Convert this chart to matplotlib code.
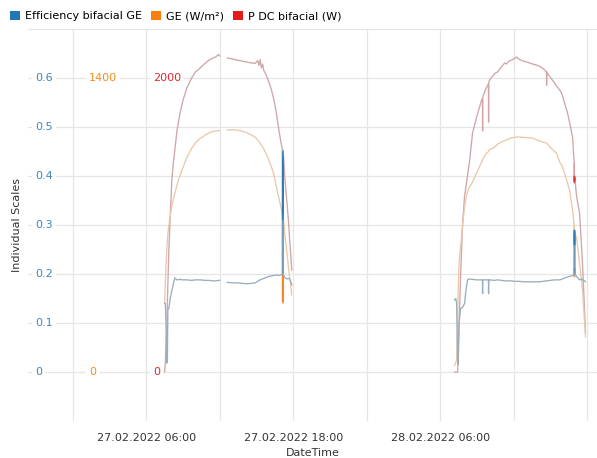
import datetime as dt

import numpy as np
import matplotlib
matplotlib.use("Agg")
import matplotlib.pyplot as plt
import matplotlib.dates as mdates
from matplotlib.collections import LineCollection
from matplotlib.patches import Patch

nan = float("nan")

# 27.02.2022 -- hour of day, efficiency, irradiance GE (W/m²), DC power (W)
d1_date = dt.datetime(2022, 2, 27)
d1_hours = [7.50, 7.55, 7.60, 7.67, 7.72, 7.76, 7.84, 7.95, 8.08, 8.20, 8.33, 8.50,
            8.75, 9.00, 9.30, 9.70, 10.0, 10.4, 10.8, 11.1, 11.4, 11.7, 11.9, 12.0,
            12.3, 12.62, 13.0, 13.4, 13.8, 14.2, 14.6, 14.9, 15.1, 15.2, 15.3, 15.4,
            15.5, 15.6, 15.8, 16.0, 16.2, 16.4, 16.6, 16.8, 17.0, 17.12,
            17.125, 17.130, 17.135, 17.140, 17.145, 17.150, 17.155, 17.160, 17.165,
            17.170, 17.175, 17.180, 17.185,
            17.19, 17.3, 17.47, 17.6, 17.71, 17.80, 17.88]
d1_eff = [0.140, 0.140, 0.105, 0.018, 0.025, 0.127, 0.130, 0.150, 0.165, 0.180, 0.192, 0.188,
          0.189, 0.188, 0.188, 0.187, 0.188, 0.188, 0.187, 0.187, 0.186, 0.186, 0.187, 0.187,
          nan, 0.183, 0.182, 0.182, 0.181, 0.180, 0.181, 0.182, 0.185, 0.187, 0.188, 0.189,
          0.190, 0.191, 0.193, 0.195, 0.196, 0.197, 0.198, 0.197, 0.198, 0.200,
          0.300, 0.440, 0.310, 0.450, 0.320, 0.430, 0.310, 0.452, 0.330,
          0.440, 0.310, 0.445, 0.300,
          0.200, 0.193, 0.190, 0.191, 0.190, 0.184, 0.178]
d1_ge = [330, 420, 500, 580, 630, 660, 700, 745, 790, 820, 850, 890,
         935, 975, 1020, 1065, 1090, 1112, 1128, 1138, 1145, 1148, 1150, 1150,
         nan, 1152, 1153, 1152, 1148, 1140, 1128, 1118, 1105, 1098, 1090, 1080,
         1072, 1062, 1038, 1010, 980, 945, 890, 835, 785, 750,
         490, 335, 480, 330, 470, 340, 485, 328, 455,
         335, 480, 332, 490,
         735, 665, 575, 505, 450, 410, 367]
d1_pdc = [0, 60, 180, 300, 470, 600, 830, 1050, 1300, 1420, 1510, 1640,
          1760, 1850, 1930, 2000, 2040, 2068, 2100, 2120, 2135, 2145, 2160, 2150,
          nan, 2136, 2130, 2122, 2115, 2109, 2102, 2100, 2118, 2085, 2125, 2068,
          2095, 2050, 2020, 1975, 1925, 1860, 1775, 1660, 1560, 1510,
          1490, 1470, 1505, 1462, 1500, 1468, 1508, 1460, 1495,
          1470, 1500, 1465, 1485,
          1490, 1340, 1170, 1040, 898, 800, 694]

# 28.02.2022
d2_date = dt.datetime(2022, 2, 28)
d2_hours = [7.18, 7.28, 7.35, 7.43, 7.48, 7.55, 7.67, 7.84, 8.00, 8.08, 8.16, 8.24,
            8.40, 8.65, 9.00, 9.39, 9.46, 9.47, 9.48, 9.70, 9.95, 9.96, 9.97, 10.04,
            10.45, 10.69, 11.0, 11.27, 11.43, 11.6, 11.84, 12.05, 12.24, 12.49, 12.8,
            13.06, 13.55, 13.88, 14.12, 14.4, 14.69, 14.70, 14.71, 15.0, 15.35, 15.51,
            15.76, 15.92, 16.0, 16.2, 16.41, 16.57, 16.82, 16.95,
            16.955, 16.960, 16.965, 16.970, 16.975, 16.980, 16.985, 16.990, 16.995,
            17.000, 17.005,
            17.01, 17.14, 17.39, 17.55, 17.63, 17.80, 17.88]
d2_eff = [0.147, 0.150, 0.140, 0.020, 0.015, 0.100, 0.130, 0.132, 0.140, 0.160, 0.175, 0.188,
          0.190, 0.189, 0.188, 0.188, 0.188, 0.160, 0.188, 0.188, 0.188, 0.160, 0.188, 0.188,
          0.187, 0.188, 0.187, 0.186, 0.186, 0.186, 0.186, 0.185, 0.185, 0.185, 0.184,
          0.184, 0.184, 0.184, 0.184, 0.185, 0.186, 0.186, 0.186, 0.187, 0.188, 0.188,
          0.188, 0.189, 0.190, 0.192, 0.194, 0.195, 0.197, 0.198,
          0.250, 0.290, 0.260, 0.285, 0.258, 0.290, 0.265, 0.288, 0.260,
          0.280, 0.250,
          0.200, 0.195, 0.188, 0.190, 0.188, 0.186, 0.184]
d2_ge = [30, 45, 60, 250, 400, 520, 595, 700, 786, 815, 840, 860,
         880, 905, 950, 1000, 1008, 1010, 1012, 1035, 1050, 1052, 1054, 1058,
         1071, 1085, 1095, 1102, 1105, 1110, 1115, 1117, 1119, 1119, 1117,
         1116, 1114, 1106, 1100, 1095, 1090, 1090, 1089, 1070, 1050, 1043,
         1000, 985, 976, 940, 900, 867, 771, 700,
         520, 455, 495, 460, 495, 452, 490, 458, 495,
         462, 520,
         660, 643, 519, 440, 390, 240, 167]
d2_pdc = [0, 0, 0, 0, 150, 320, 650, 1014, 1200, 1240, 1290, 1340,
          1430, 1626, 1740, 1850, 1860, 1640, 1870, 1920, 1960, 1700, 1970, 1986,
          2030, 2041, 2075, 2102, 2095, 2115, 2122, 2130, 2143, 2125, 2115,
          2109, 2095, 2088, 2080, 2065, 2041, 1950, 2040, 2005, 1966, 1945,
          1920, 1898, 1880, 1820, 1762, 1700, 1599, 1420,
          1330, 1300, 1335, 1290, 1330, 1285, 1320, 1295, 1330,
          1300, 1320,
          1320, 1200, 1082, 860, 742, 420, 265]

series_names = ["Efficiency bifacial GE", "GE (W/m²)", "P DC bifacial (W)"]
series_colors = ["#1f77b4", "#ff7f0e", "#e41a1c"]
faded_colors = ["#9aaebd", "#e9c9ab", "#d0a6a8"]
label_colors = ["#3c86c2", "#ff8c1a", "#e8242c"]
scale_top = [0.6, 1400, 2000]   # value printed at the 0.6 grid line of each scale

W, H = 597, 458
L, R, T, B = 28, 597, 29, 421
eff_lim = (-0.1, 0.7)
burst_dt = 0.008 / 24   # samples closer than this (days) form a burst


def to_num(day, hours):
    return mdates.date2num([day + dt.timedelta(hours=h) for h in hours])


def draw_series(ax, x, values, faded, full):
    y = np.asarray(values, dtype=float)
    ax.plot(x, y, color=faded, lw=0.95, solid_joinstyle="round")
    pts = np.column_stack([x, y])
    segs = np.stack([pts[:-1], pts[1:]], axis=1)
    ok = np.isfinite(segs).all(axis=(1, 2)) & (np.diff(x) < burst_dt)
    # bursts of samples overlap each other and build up colour
    ax.add_collection(LineCollection(segs[ok], colors=full, linewidths=1.1,
                                     alpha=0.2, capstyle="butt"))


fig = plt.figure(figsize=(W / 100, H / 100), dpi=100, facecolor="white")
ax = fig.add_axes([L / W, 1 - B / H, (R - L) / W, (B - T) / H])
ax_p = ax.twinx()
ax_ge = ax.twinx()
ax_eff = ax.twinx()
axes = [ax_eff, ax_ge, ax_p]

x_start = dt.datetime(2022, 2, 26, 20, 20)
x_end = dt.datetime(2022, 2, 28, 18, 49)
for a in [ax, ax_p, ax_ge, ax_eff]:
    a.set_xlim(mdates.date2num(x_start), mdates.date2num(x_end))
    for s in a.spines.values():
        s.set_visible(False)
    a.patch.set_visible(False)
    a.tick_params(left=False, right=False, bottom=False, labelleft=False,
                  labelright=False, labelbottom=False)
ax.set_zorder(0)
ax_p.set_zorder(1)
ax_ge.set_zorder(2)
ax_eff.set_zorder(3)

for a, top in zip(axes, scale_top):
    k = top / 0.6
    a.set_ylim(eff_lim[0] * k, eff_lim[1] * k)
ax.set_ylim(*eff_lim)

# grid on the bottom axes
ax.set_yticks(np.arange(0, 0.71, 0.1))
grid_times = [dt.datetime(2022, 2, 27) + dt.timedelta(hours=6 * k) for k in range(8)]
ax.set_xticks(mdates.date2num(grid_times))
ax.set_xticklabels([t.strftime("%d.%m.%Y %H:%M") if k % 2 == 1 and k < 6 else ""
                    for k, t in enumerate(grid_times)])
ax.tick_params(labelbottom=True, labelsize=8, labelcolor="#333333", pad=5)
ax.grid(True, color="#e6e6e6", lw=0.9)
ax.set_axisbelow(True)
ax.set_xlabel("DateTime", fontsize=8, color="#333333", labelpad=4)

# traces
for day, hours, vals in [(d1_date, d1_hours, [d1_eff, d1_ge, d1_pdc]),
                         (d2_date, d2_hours, [d2_eff, d2_ge, d2_pdc])]:
    x = to_num(day, hours)
    for a, v, fc, cc in zip(axes, vals, faded_colors, series_colors):
        draw_series(a, x, v, fc, cc)

# scale labels drawn inside the plot, one column per series
label_x = [35, 89, 153]
eff_ticks = [0, 0.1, 0.2, 0.3, 0.4, 0.5, 0.6]
for a, lx, col, top in zip(axes, label_x, label_colors, scale_top):
    ticks = eff_ticks if top == 0.6 else [0, top]
    for v in ticks:
        a.text((lx - L) / (R - L), v, f"{v:g}", transform=a.get_yaxis_transform(),
               ha="left", va="center", fontsize=8, color=col,
               bbox=dict(boxstyle="square,pad=0.3", fc="white", ec="none"))

fig.text(17 / W, 1 - 225 / H, "Individual Scales", rotation=90, ha="center",
         va="center", fontsize=8, color="#333333")

handles = [Patch(facecolor=c, edgecolor="none") for c in series_colors]
fig.legend(handles, series_names, loc="upper left", bbox_to_anchor=(10 / W, 1 - 11 / H),
           ncol=3, frameon=False, fontsize=8, borderpad=0, borderaxespad=0,
           handlelength=0.9, handleheight=0.9, handletextpad=0.45, columnspacing=0.8)

fig.savefig("out.png", dpi=100, facecolor="white")
